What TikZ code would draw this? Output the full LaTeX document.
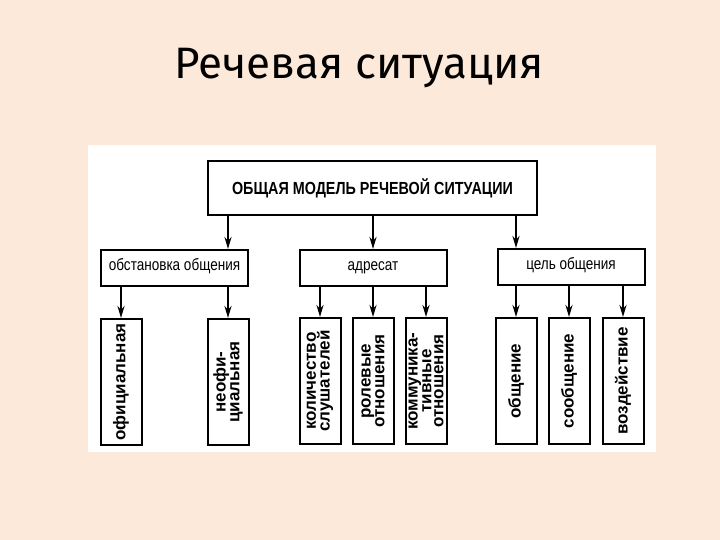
\documentclass[tikz,border=0pt]{standalone}
\usepackage{fontspec}
\setmainfont{Liberation Sans}
\newfontfamily\titlefont{Fira Sans}
\newfontfamily\narrowfont[FakeStretch=0.82]{Liberation Sans}
\usetikzlibrary{arrows.meta}
\definecolor{bgbeige}{RGB}{253,233,218}

\tikzset{
  box/.style={draw, line width=2pt, fill=white, inner sep=0pt},
  headbox/.style={box, minimum width=329pt, minimum height=54pt,
    font=\narrowfont\bfseries\fontsize{17.5}{17.5}\selectfont},
  groupbox/.style={box, minimum width=147pt, minimum height=36pt,
    text height=0.75em, text depth=0.25em,
    font=\narrowfont\fontsize{16.5}{16.5}\selectfont},
  leafbox/.style={box, rotate=90, minimum width=126pt, minimum height=41pt,
    align=center, font=\bfseries\fontsize{17}{12.5}\selectfont},
  link/.style={->, line width=2pt},
}

\begin{document}
\begin{tikzpicture}[x=1pt, y=-1pt, >={Stealth[length=12pt, width=7pt]}]
    \useasboundingbox[fill=bgbeige] (0,0) rectangle (720,540);
    \fill[white] (88,145) rectangle (656,452);
    \node[font=\titlefont\fontsize{44}{44}\selectfont] (title) at (359,68) {Речевая ситуация};

    % общая модель
    \node[headbox] (model) at (372.5,188) {ОБЩАЯ МОДЕЛЬ РЕЧЕВОЙ СИТУАЦИИ};

    % группы
    \node[groupbox] (obst) at (174.5,268) {обстановка общения};
    \node[groupbox] (adr) at (373,268) {адресат};
    \node[groupbox] (cel) at (571,267) {цель общения};

    % признаки
    \node[leafbox] (ofic) at (121,382) {официальная};
    \node[leafbox] (neof) at (228,382) {неофи-\\циальная};
    \node[leafbox] (kol) at (320,381) {количество\\слушателей};
    \node[leafbox] (rol) at (373,381) {ролевые\\отношения};
    \node[leafbox, font=\bfseries\fontsize{17}{12}\selectfont] (komm) at (426,381) {коммуника-\\тивные\\отношения};
    \node[leafbox] (obshch) at (516,381) {общение};
    \node[leafbox] (soob) at (569,381) {сообщение};
    \node[leafbox] (vozd) at (623,381) {воздействие};

    \draw[link] (model.south -| neof) -- (neof |- obst.north);
    \draw[link] (model.south -| adr) -- (adr);
    \draw[link] (model.south -| obshch) -- (obshch |- cel.north);
    \foreach \leaf in {ofic, neof}
        \draw[link] (obst.south -| \leaf) -- (\leaf);
    \foreach \leaf in {kol, rol, komm}
        \draw[link] (adr.south -| \leaf) -- (\leaf);
    \foreach \leaf in {obshch, soob, vozd}
        \draw[link] (cel.south -| \leaf) -- (\leaf);
\end{tikzpicture}
\end{document}
